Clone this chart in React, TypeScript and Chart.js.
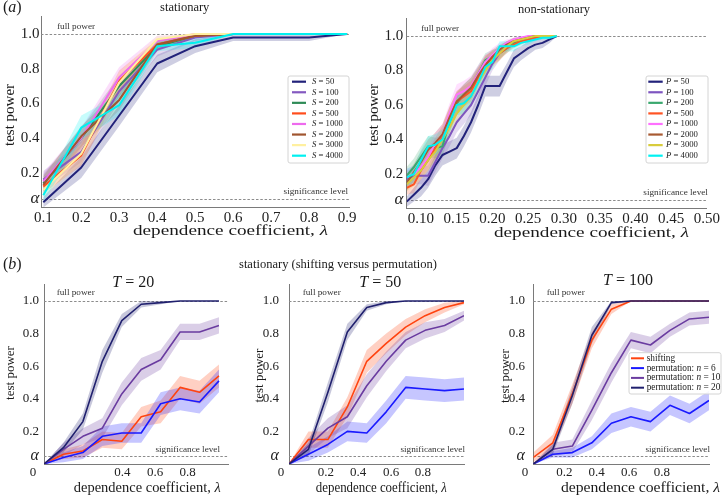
import React, { useEffect, useRef } from "react";
import { Chart, registerables } from "chart.js";

Chart.register(...registerables);

const W = 722;
const H = 497;
const SERIF = "'Liberation Serif', 'Times New Roman', Times, serif";
Chart.defaults.font.family = SERIF;
Chart.defaults.color = "#222";

// ---------------- reference levels ----------------
const fullPower = 1.0;
const alphaLevel = 0.05;
const yTickValues = [0.05, 0.2, 0.4, 0.6, 0.8, 1.0];
const yTickLabels = ["α", "0.2", "0.4", "0.6", "0.8", "1.0"];

// ---------------- (a) stationary ----------------
const statLambda = [0.1, 0.2, 0.3, 0.4, 0.5, 0.6, 0.7, 0.8, 0.9];
const statS50 = [0.03, 0.23, 0.53, 0.83, 0.93, 0.98, 0.98, 0.98, 1.0];
const statS100 = [0.16, 0.32, 0.67, 0.91, 0.98, 1.0, 1.0, 1.0, 1.0];
const statS200 = [0.14, 0.4, 0.7, 0.93, 0.99, 1.0, 1.0, 1.0, 1.0];
const statS500 = [0.12, 0.3, 0.73, 0.94, 0.99, 1.0, 1.0, 1.0, 1.0];
const statS1000 = [0.15, 0.4, 0.75, 0.96, 1.0, 1.0, 1.0, 1.0, 1.0];
const statS2000 = [0.13, 0.41, 0.62, 0.94, 0.99, 1.0, 1.0, 1.0, 1.0];
const statS3000 = [0.1, 0.31, 0.72, 0.97, 1.0, 1.0, 1.0, 1.0, 1.0];
const statS4000 = [0.07, 0.46, 0.59, 0.93, 0.95, 1.0, 1.0, 1.0, 1.0];
const statErr50 = [0.03, 0.06, 0.06, 0.05, 0.04, 0.02, 0.02, 0.02, 0.0];
const statErr100 = [0.05, 0.06, 0.06, 0.04, 0.02, 0.0, 0.0, 0.0, 0.0];
const statErr200 = [0.05, 0.06, 0.06, 0.03, 0.01, 0.0, 0.0, 0.0, 0.0];
const statErr500 = [0.04, 0.06, 0.06, 0.03, 0.01, 0.0, 0.0, 0.0, 0.0];
const statErr1000 = [0.05, 0.06, 0.06, 0.03, 0.0, 0.0, 0.0, 0.0, 0.0];
const statErr2000 = [0.05, 0.06, 0.06, 0.03, 0.01, 0.0, 0.0, 0.0, 0.0];
const statErr3000 = [0.04, 0.06, 0.06, 0.02, 0.0, 0.0, 0.0, 0.0, 0.0];
const statErr4000 = [0.04, 0.07, 0.06, 0.03, 0.03, 0.0, 0.0, 0.0, 0.0];
const statTickValues = [0.1, 0.2, 0.3, 0.4, 0.5, 0.6, 0.7, 0.8, 0.9];
const statTickLabels = ["0.1", "0.2", "0.3", "0.4", "0.5", "0.6", "0.7", "0.8", "0.9"];

// ---------------- (a) non-stationary ----------------
const nsLambda = [0.08, 0.09, 0.1, 0.11, 0.12, 0.13, 0.14, 0.15, 0.16, 0.17, 0.18, 0.19, 0.2, 0.21, 0.22, 0.23, 0.24, 0.25, 0.26, 0.27, 0.28, 0.29];
const nsP50 = [0.04, 0.08, 0.12, 0.17, 0.25, 0.31, 0.33, 0.35, 0.42, 0.5, 0.6, 0.71, 0.71, 0.71, 0.79, 0.87, 0.9, 0.93, 0.95, 0.96, 0.98, 1.0];
const nsP100 = [0.17, 0.19, 0.19, 0.19, 0.27, 0.35, 0.42, 0.5, 0.55, 0.6, 0.68, 0.76, 0.84, 0.9, 0.94, 0.97, 0.98, 0.98, 0.99, 1.0, 1.0, 1.0];
const nsP200 = [0.19, 0.24, 0.3, 0.36, 0.35, 0.36, 0.5, 0.61, 0.66, 0.7, 0.78, 0.86, 0.88, 0.9, 0.93, 0.96, 0.98, 0.99, 1.0, 1.0, 1.0, 1.0];
const nsP500 = [0.12, 0.14, 0.22, 0.28, 0.35, 0.42, 0.53, 0.62, 0.65, 0.68, 0.76, 0.84, 0.87, 0.9, 0.93, 0.95, 0.97, 0.98, 0.99, 1.0, 1.0, 1.0];
const nsP1000 = [0.18, 0.2, 0.24, 0.3, 0.38, 0.43, 0.55, 0.66, 0.68, 0.71, 0.78, 0.85, 0.89, 0.93, 0.96, 0.98, 0.99, 1.0, 1.0, 1.0, 1.0, 1.0];
const nsP2000 = [0.15, 0.21, 0.27, 0.34, 0.38, 0.43, 0.53, 0.62, 0.66, 0.7, 0.77, 0.83, 0.88, 0.92, 0.95, 0.97, 0.98, 0.99, 1.0, 1.0, 1.0, 1.0];
const nsP3000 = [0.14, 0.18, 0.22, 0.28, 0.33, 0.4, 0.47, 0.55, 0.6, 0.65, 0.73, 0.8, 0.86, 0.9, 0.94, 0.97, 0.98, 0.99, 1.0, 1.0, 1.0, 1.0];
const nsP4000 = [0.18, 0.2, 0.28, 0.36, 0.37, 0.4, 0.5, 0.6, 0.61, 0.65, 0.73, 0.82, 0.85, 0.94, 0.94, 0.94, 0.96, 0.97, 0.98, 0.99, 0.99, 1.0];
const nsErr50 = [0.03, 0.04, 0.05, 0.05, 0.06, 0.06, 0.06, 0.06, 0.06, 0.06, 0.06, 0.06, 0.06, 0.06, 0.05, 0.05, 0.04, 0.04, 0.03, 0.03, 0.02, 0.0];
const nsErr100 = [0.05, 0.05, 0.05, 0.06, 0.06, 0.06, 0.06, 0.06, 0.06, 0.06, 0.05, 0.05, 0.04, 0.04, 0.03, 0.02, 0.02, 0.01, 0.01, 0.0, 0.0, 0.0];
const nsErr200 = [0.05, 0.05, 0.06, 0.06, 0.06, 0.06, 0.06, 0.06, 0.06, 0.06, 0.05, 0.04, 0.04, 0.03, 0.03, 0.02, 0.01, 0.01, 0.0, 0.0, 0.0, 0.0];
const nsErr500 = [0.04, 0.05, 0.05, 0.06, 0.06, 0.06, 0.06, 0.06, 0.06, 0.06, 0.05, 0.05, 0.04, 0.04, 0.03, 0.02, 0.02, 0.01, 0.01, 0.0, 0.0, 0.0];
const nsErr1000 = [0.05, 0.05, 0.05, 0.06, 0.06, 0.06, 0.06, 0.06, 0.06, 0.06, 0.05, 0.04, 0.04, 0.03, 0.02, 0.01, 0.01, 0.0, 0.0, 0.0, 0.0, 0.0];
const nsErr2000 = [0.05, 0.05, 0.06, 0.06, 0.06, 0.06, 0.06, 0.06, 0.06, 0.06, 0.05, 0.05, 0.04, 0.03, 0.02, 0.02, 0.01, 0.01, 0.0, 0.0, 0.0, 0.0];
const nsErr3000 = [0.04, 0.05, 0.05, 0.06, 0.06, 0.06, 0.06, 0.06, 0.06, 0.06, 0.05, 0.05, 0.04, 0.04, 0.03, 0.02, 0.01, 0.01, 0.0, 0.0, 0.0, 0.0];
const nsErr4000 = [0.05, 0.05, 0.06, 0.06, 0.06, 0.06, 0.06, 0.06, 0.06, 0.06, 0.05, 0.05, 0.04, 0.03, 0.03, 0.03, 0.02, 0.02, 0.01, 0.01, 0.01, 0.0];
const nsTickValues = [0.1, 0.15, 0.2, 0.25, 0.3, 0.35, 0.4, 0.45, 0.5];
const nsTickLabels = ["0.10", "0.15", "0.20", "0.25", "0.30", "0.35", "0.40", "0.45", "0.50"];

// ---------------- (b) shifting versus permutation ----------------
const bLambda = [0, 0.1, 0.2, 0.3, 0.4, 0.5, 0.6, 0.7, 0.8, 0.9];
const t20Shift = [0, 0.06, 0.08, 0.15, 0.14, 0.29, 0.32, 0.47, 0.44, 0.54];
const t20Perm6 = [0, 0.04, 0.07, 0.17, 0.19, 0.19, 0.37, 0.4, 0.38, 0.51];
const t20Perm10 = [0, 0.09, 0.17, 0.22, 0.43, 0.58, 0.64, 0.81, 0.81, 0.85];
const t20Perm20 = [0, 0.1, 0.26, 0.63, 0.88, 0.98, 0.99, 1.0, 1.0, 1.0];
const t20ErrShift = [0, 0.03, 0.04, 0.05, 0.05, 0.06, 0.07, 0.07, 0.07, 0.07];
const t20ErrPerm6 = [0, 0.03, 0.04, 0.06, 0.06, 0.06, 0.07, 0.07, 0.07, 0.07];
const t20ErrPerm10 = [0, 0.04, 0.05, 0.06, 0.07, 0.07, 0.06, 0.05, 0.05, 0.05];
const t20ErrPerm20 = [0, 0.03, 0.05, 0.07, 0.04, 0.02, 0.01, 0.0, 0.0, 0.0];

const t50Shift = [0, 0.15, 0.15, 0.35, 0.63, 0.74, 0.84, 0.91, 0.96, 0.99];
const t50Perm6 = [0, 0.06, 0.12, 0.2, 0.19, 0.32, 0.47, 0.46, 0.45, 0.46];
const t50Perm10 = [0, 0.11, 0.22, 0.29, 0.48, 0.63, 0.76, 0.82, 0.85, 0.91];
const t50Perm20 = [0, 0.09, 0.44, 0.81, 0.96, 0.99, 1.0, 1.0, 1.0, 1.0];
const t50ErrShift = [0, 0.05, 0.05, 0.06, 0.07, 0.06, 0.05, 0.04, 0.03, 0.01];
const t50ErrPerm6 = [0, 0.04, 0.05, 0.06, 0.06, 0.07, 0.07, 0.07, 0.07, 0.07];
const t50ErrPerm10 = [0, 0.05, 0.06, 0.07, 0.07, 0.06, 0.05, 0.05, 0.04, 0.03];
const t50ErrPerm20 = [0, 0.04, 0.06, 0.05, 0.02, 0.01, 0.0, 0.0, 0.0, 0.0];

const t100Shift = [0.04, 0.13, 0.43, 0.76, 0.95, 1.0, 1.0, 1.0, 1.0, 1.0];
const t100Perm6 = [0, 0.06, 0.07, 0.13, 0.25, 0.29, 0.26, 0.36, 0.31, 0.39];
const t100Perm10 = [0, 0.09, 0.11, 0.33, 0.56, 0.76, 0.73, 0.82, 0.89, 0.9];
const t100Perm20 = [0, 0.09, 0.42, 0.79, 0.99, 1.0, 1.0, 1.0, 1.0, 1.0];
const t100ErrShift = [0.03, 0.05, 0.06, 0.05, 0.03, 0.0, 0.0, 0.0, 0.0, 0.0];
const t100ErrPerm6 = [0, 0.02, 0.03, 0.04, 0.06, 0.06, 0.06, 0.06, 0.06, 0.06];
const t100ErrPerm10 = [0, 0.04, 0.04, 0.06, 0.06, 0.05, 0.05, 0.04, 0.04, 0.04];
const t100ErrPerm20 = [0, 0.03, 0.05, 0.05, 0.01, 0.0, 0.0, 0.0, 0.0, 0.0];

const t20TickLabels = ["0", "0.4", "0.6", "0.8"];
const t20TickAt = [-0.057, 0.403, 0.571, 0.739];
const t50TickLabels = ["0", "0.2", "0.4", "0.6", "0.8"];
const t50TickAt = [-0.041, 0.189, 0.355, 0.525, 0.689];
const t100TickLabels = ["0", "0.2", "0.4", "0.6", "0.8"];
const t100TickAt = [-0.043, 0.159, 0.325, 0.491, 0.658];

// ---------------- styles ----------------
type Seg = { t: string; i?: boolean };
const seg = (t: string, i = false): Seg => ({ t, i });

type Txt = {
  s: Seg[];
  x: number;
  y: number;
  size: number;
  align?: "left" | "center" | "right";
  rot?: number;
  w?: number;
  base?: CanvasTextBaseline;
  color?: string;
};

type Series = { name: Seg[]; y: number[]; err: number[]; color: string; lw: number };

type Legend = { x: number; y: number; w: number; h: number; row0: number; rowH: number; h0: number; h1: number; tx: number; size: number; lw: number };

type PanelCfg = {
  area: { l: number; t: number; r: number; b: number };
  xRange: [number, number];
  yRange: [number, number];
  xs: number[];
  series: Series[];
  band: number;
  xTickAt: number[];
  xTickLabels: string[];
  tickSize: number;
  alphaSize: number;
  xPad: number;
  yPad: number;
  refDx: number;
  refSize: number;
  fullOff: number;
  sigOff: number;
  sigAtX: number;
  texts: Txt[];
  legend?: Legend;
};

const NAVY = "#22227a";
const C_S = {
  s50: NAVY,
  s100: "#8459c0",
  s200: "#2e8b57",
  s500: "#ff4d1c",
  s1000: "#ee6aee",
  s2000: "#a0552f",
  s3000: "#fff0a0",
  s4000: "#00f0f0",
};
const C_P = {
  p50: NAVY,
  p100: "#7e55c0",
  p200: "#3aa86e",
  p500: "#ff5424",
  p1000: "#ff70ff",
  p2000: "#a85a32",
  p3000: "#d8cc3c",
  p4000: "#00f2f2",
};
const C_B = { shift: "#ff4410", perm6: "#1a1aff", perm10: "#6a3ca0", perm20: "#20206e" };

function rgba(hex: string, a: number) {
  const h = hex.replace("#", "");
  const r = parseInt(h.slice(0, 2), 16);
  const g = parseInt(h.slice(2, 4), 16);
  const b = parseInt(h.slice(4, 6), 16);
  return `rgba(${r},${g},${b},${a})`;
}

function fontStr(size: number, italic?: boolean) {
  return `${italic ? "italic " : ""}${size}px ${SERIF}`;
}

function drawText(ctx: CanvasRenderingContext2D, t: Txt) {
  ctx.save();
  ctx.fillStyle = t.color || "#1a1a1a";
  ctx.textBaseline = t.base || "middle";
  ctx.textAlign = "left";
  const widths = t.s.map((s) => {
    ctx.font = fontStr(t.size, s.i);
    return ctx.measureText(s.t).width;
  });
  const total = widths.reduce((a, b) => a + b, 0);
  const sx = t.w ? t.w / total : 1;
  ctx.translate(t.x, t.y);
  if (t.rot) ctx.rotate(t.rot);
  ctx.scale(sx, 1);
  const align = t.align || "left";
  let cx = align === "left" ? 0 : align === "center" ? -total / 2 : -total;
  t.s.forEach((s, i) => {
    ctx.font = fontStr(t.size, s.i);
    ctx.fillText(s.t, cx, 0);
    cx += widths[i];
  });
  ctx.restore();
}

function drawLegend(ctx: CanvasRenderingContext2D, lg: Legend, series: Series[]) {
  ctx.save();
  const r = 2;
  ctx.beginPath();
  ctx.moveTo(lg.x + r, lg.y);
  ctx.lineTo(lg.x + lg.w - r, lg.y);
  ctx.quadraticCurveTo(lg.x + lg.w, lg.y, lg.x + lg.w, lg.y + r);
  ctx.lineTo(lg.x + lg.w, lg.y + lg.h - r);
  ctx.quadraticCurveTo(lg.x + lg.w, lg.y + lg.h, lg.x + lg.w - r, lg.y + lg.h);
  ctx.lineTo(lg.x + r, lg.y + lg.h);
  ctx.quadraticCurveTo(lg.x, lg.y + lg.h, lg.x, lg.y + lg.h - r);
  ctx.lineTo(lg.x, lg.y + r);
  ctx.quadraticCurveTo(lg.x, lg.y, lg.x + r, lg.y);
  ctx.closePath();
  ctx.fillStyle = "rgba(255,255,255,0.85)";
  ctx.fill();
  ctx.strokeStyle = "#d4d4d4";
  ctx.lineWidth = 1;
  ctx.stroke();
  series.forEach((s, i) => {
    const cy = lg.row0 + i * lg.rowH;
    ctx.strokeStyle = s.color;
    ctx.lineWidth = lg.lw;
    ctx.beginPath();
    ctx.moveTo(lg.h0, cy);
    ctx.lineTo(lg.h1, cy);
    ctx.stroke();
    drawText(ctx, { s: s.name, x: lg.tx, y: cy, size: lg.size, align: "left", color: "#222" });
  });
  ctx.restore();
}

function panelPlugin(cfg: PanelCfg) {
  return {
    id: "panelDeco",
    beforeDatasetsDraw(chart: any) {
      const { ctx, chartArea: a } = chart;
      const ys = chart.scales.y;
      ctx.save();
      ctx.strokeStyle = "#8c8c8c";
      ctx.lineWidth = 1;
      ctx.setLineDash([2.5, 1.8]);
      [fullPower, alphaLevel].forEach((v) => {
        const py = Math.round(ys.getPixelForValue(v)) + 0.5;
        ctx.beginPath();
        ctx.moveTo(a.left, py);
        ctx.lineTo(a.right, py);
        ctx.stroke();
      });
      ctx.restore();
    },
    afterDraw(chart: any) {
      const { ctx, chartArea: a } = chart;
      const xs = chart.scales.x;
      const ys = chart.scales.y;
      drawText(ctx, {
        s: [seg("full power")],
        x: a.left + cfg.refDx,
        y: ys.getPixelForValue(fullPower) - cfg.fullOff,
        size: cfg.refSize,
        align: "left",
        base: "alphabetic",
        color: "#333",
      });
      drawText(ctx, {
        s: [seg("significance level")],
        x: xs.getPixelForValue(cfg.sigAtX) + 1,
        y: ys.getPixelForValue(alphaLevel) - cfg.sigOff,
        size: cfg.refSize,
        align: "right",
        base: "alphabetic",
        color: "#333",
      });
      cfg.texts.forEach((t) => drawText(ctx, t));
      if (cfg.legend) drawLegend(ctx, cfg.legend, cfg.series);
    },
  };
}

function buildDatasets(cfg: PanelCfg) {
  const ds: any[] = [];
  const n = cfg.series.length;
  cfg.series.forEach((s, i) => {
    const upper = cfg.xs.map((x, k) => ({ x, y: Math.min(1, s.y[k] + s.err[k]) }));
    const lower = cfg.xs.map((x, k) => ({ x, y: Math.max(0, s.y[k] - s.err[k]) }));
    ds.push({ data: upper, borderWidth: 0, pointRadius: 0, fill: false, order: 1000 - i, borderColor: "rgba(0,0,0,0)" });
    ds.push({
      data: lower,
      borderWidth: 0,
      pointRadius: 0,
      fill: "-1",
      backgroundColor: rgba(s.color, cfg.band),
      borderColor: "rgba(0,0,0,0)",
      order: 1000 - i,
    });
  });
  cfg.series.forEach((s, i) => {
    ds.push({
      data: cfg.xs.map((x, k) => ({ x, y: s.y[k] })),
      borderColor: s.color,
      borderWidth: s.lw,
      pointRadius: 0,
      fill: false,
      tension: 0,
      borderJoinStyle: "round",
      order: n - i,
    });
  });
  return ds;
}

function makeConfig(cfg: PanelCfg): any {
  const a = cfg.area;
  return {
    type: "line",
    data: { datasets: buildDatasets(cfg) },
    options: {
      responsive: false,
      animation: false,
      events: [],
      layout: { autoPadding: false, padding: { left: 0, top: a.t, right: W - a.r, bottom: 0 } },
      plugins: { legend: { display: false }, tooltip: { enabled: false }, title: { display: false } },
      scales: {
        x: {
          type: "linear",
          position: "bottom",
          min: cfg.xRange[0],
          max: cfg.xRange[1],
          afterFit: (s: any) => {
            s.height = H - a.b;
          },
          afterBuildTicks: (s: any) => {
            s.ticks = cfg.xTickAt.map((v) => ({ value: v }));
          },
          ticks: {
            autoSkip: false,
            maxRotation: 0,
            minRotation: 0,
            padding: cfg.xPad,
            color: "#222",
            font: { family: SERIF, size: cfg.tickSize },
            callback: (_v: any, i: number) => cfg.xTickLabels[i],
          },
          grid: { display: false, drawTicks: false },
          border: { display: true, color: "#7a7a7a", width: 1 },
        },
        y: {
          type: "linear",
          position: "left",
          min: cfg.yRange[0],
          max: cfg.yRange[1],
          afterFit: (s: any) => {
            s.width = a.l;
          },
          afterBuildTicks: (s: any) => {
            s.ticks = yTickValues.map((v) => ({ value: v }));
          },
          ticks: {
            autoSkip: false,
            padding: cfg.yPad,
            color: "#222",
            font: (c: any) =>
              c.tick && Math.abs(c.tick.value - alphaLevel) < 1e-9
                ? { family: SERIF, size: cfg.alphaSize, style: "italic" }
                : { family: SERIF, size: cfg.tickSize },
            callback: (_v: any, i: number) => yTickLabels[i],
          },
          grid: { display: false, drawTicks: false },
          border: { display: true, color: "#7a7a7a", width: 1 },
        },
      },
    },
    plugins: [panelPlugin(cfg)],
  };
}

const lam = (pre: string): Seg[] => [seg(pre), seg("λ", true)];

const PANELS: PanelCfg[] = [
  {
    area: { l: 41, t: 16.7, r: 349, b: 207.4 },
    xRange: [0.094, 0.905],
    yRange: [0, 1.1],
    xs: statLambda,
    band: 0.22,
    series: [
      { name: [seg("S", true), seg(" = 50")], y: statS50, err: statErr50, color: C_S.s50, lw: 2 },
      { name: [seg("S", true), seg(" = 100")], y: statS100, err: statErr100, color: C_S.s100, lw: 2 },
      { name: [seg("S", true), seg(" = 200")], y: statS200, err: statErr200, color: C_S.s200, lw: 2 },
      { name: [seg("S", true), seg(" = 500")], y: statS500, err: statErr500, color: C_S.s500, lw: 2 },
      { name: [seg("S", true), seg(" = 1000")], y: statS1000, err: statErr1000, color: C_S.s1000, lw: 2 },
      { name: [seg("S", true), seg(" = 2000")], y: statS2000, err: statErr2000, color: C_S.s2000, lw: 2 },
      { name: [seg("S", true), seg(" = 3000")], y: statS3000, err: statErr3000, color: C_S.s3000, lw: 2 },
      { name: [seg("S", true), seg(" = 4000")], y: statS4000, err: statErr4000, color: C_S.s4000, lw: 2 },
    ],
    xTickAt: statTickValues,
    xTickLabels: statTickLabels,
    tickSize: 15,
    alphaSize: 17,
    xPad: 2,
    yPad: 1.5,
    refDx: 16,
    refSize: 9.2,
    fullOff: 5,
    sigOff: 5,
    sigAtX: 0.9,
    texts: [
      { s: [seg("("), seg("a", true), seg(")")], x: 3, y: 8, size: 16, align: "left" },
      { s: [seg("stationary")], x: 184.7, y: 7.5, size: 12.5, align: "center" },
      { s: [seg("test power")], x: 10, y: 115, size: 15, align: "center", rot: -Math.PI / 2 },
      { s: lam("dependence coefficient, "), x: 230.5, y: 231.5, size: 15, align: "center", w: 195 },
    ],
    legend: { x: 288, y: 76, w: 61, h: 87, row0: 81.7, rowH: 10.57, h0: 292, h1: 306, tx: 312, size: 8.7, lw: 2.2 },
  },
  {
    area: { l: 406.7, t: 18.75, r: 710.3, b: 208.5 },
    xRange: [0.08, 0.5],
    yRange: [0, 1.1],
    xs: nsLambda,
    band: 0.22,
    series: [
      { name: [seg("P", true), seg(" = 50")], y: nsP50, err: nsErr50, color: C_P.p50, lw: 2 },
      { name: [seg("P", true), seg(" = 100")], y: nsP100, err: nsErr100, color: C_P.p100, lw: 2 },
      { name: [seg("P", true), seg(" = 200")], y: nsP200, err: nsErr200, color: C_P.p200, lw: 2 },
      { name: [seg("P", true), seg(" = 500")], y: nsP500, err: nsErr500, color: C_P.p500, lw: 2 },
      { name: [seg("P", true), seg(" = 1000")], y: nsP1000, err: nsErr1000, color: C_P.p1000, lw: 2 },
      { name: [seg("P", true), seg(" = 2000")], y: nsP2000, err: nsErr2000, color: C_P.p2000, lw: 2 },
      { name: [seg("P", true), seg(" = 3000")], y: nsP3000, err: nsErr3000, color: C_P.p3000, lw: 2 },
      { name: [seg("P", true), seg(" = 4000")], y: nsP4000, err: nsErr4000, color: C_P.p4000, lw: 2 },
    ],
    xTickAt: nsTickValues,
    xTickLabels: nsTickLabels,
    tickSize: 15,
    alphaSize: 17,
    xPad: 2,
    yPad: 3.4,
    refDx: 14.3,
    refSize: 9.2,
    fullOff: 5,
    sigOff: 5,
    sigAtX: 0.5,
    texts: [
      { s: [seg("non-stationary")], x: 554, y: 10, size: 12.5, align: "center" },
      { s: [seg("test power")], x: 374.3, y: 115, size: 15, align: "center", rot: -Math.PI / 2 },
      { s: lam("dependence coefficient, "), x: 591.5, y: 233, size: 15, align: "center", w: 195 },
    ],
    legend: { x: 646, y: 76, w: 62, h: 87, row0: 81.7, rowH: 10.57, h0: 648.3, h1: 662.7, tx: 666, size: 8.7, lw: 2.2 },
  },
  {
    area: { l: 44, t: 284.7, r: 228.7, b: 464 },
    xRange: [0, 0.95],
    yRange: [0, 1.1],
    xs: bLambda,
    band: 0.25,
    series: [
      { name: [seg("shifting")], y: t20Shift, err: t20ErrShift, color: C_B.shift, lw: 1.6 },
      { name: [seg("permutation: "), seg("n", true), seg(" = 6")], y: t20Perm6, err: t20ErrPerm6, color: C_B.perm6, lw: 1.6 },
      { name: [seg("permutation: "), seg("n", true), seg(" = 10")], y: t20Perm10, err: t20ErrPerm10, color: C_B.perm10, lw: 1.6 },
      { name: [seg("permutation: "), seg("n", true), seg(" = 20")], y: t20Perm20, err: t20ErrPerm20, color: C_B.perm20, lw: 1.6 },
    ],
    xTickAt: t20TickAt,
    xTickLabels: t20TickLabels,
    tickSize: 13,
    alphaSize: 16,
    xPad: 0.5,
    yPad: 5,
    refDx: 12.7,
    refSize: 9.2,
    fullOff: 6,
    sigOff: 3.5,
    sigAtX: 0.9,
    texts: [
      { s: [seg("("), seg("b", true), seg(")")], x: 3, y: 265, size: 16, align: "left" },
      { s: [seg("stationary (shifting versus permutation)")], x: 338, y: 265, size: 12.5, align: "center", w: 198 },
      { s: [seg("T", true), seg(" = 20")], x: 133.3, y: 283, size: 16, align: "center" },
      { s: [seg("test power")], x: 10.8, y: 373, size: 13, align: "center", rot: -Math.PI / 2 },
      { s: lam("dependence coefficient, "), x: 147.3, y: 488.3, size: 14, align: "center", w: 147 },
    ],
  },
  {
    area: { l: 289, t: 284.7, r: 464, b: 464 },
    xRange: [0, 0.9],
    yRange: [0, 1.1],
    xs: bLambda,
    band: 0.25,
    series: [
      { name: [seg("shifting")], y: t50Shift, err: t50ErrShift, color: C_B.shift, lw: 1.6 },
      { name: [seg("permutation: "), seg("n", true), seg(" = 6")], y: t50Perm6, err: t50ErrPerm6, color: C_B.perm6, lw: 1.6 },
      { name: [seg("permutation: "), seg("n", true), seg(" = 10")], y: t50Perm10, err: t50ErrPerm10, color: C_B.perm10, lw: 1.6 },
      { name: [seg("permutation: "), seg("n", true), seg(" = 20")], y: t50Perm20, err: t50ErrPerm20, color: C_B.perm20, lw: 1.6 },
    ],
    xTickAt: t50TickAt,
    xTickLabels: t50TickLabels,
    tickSize: 13,
    alphaSize: 16,
    xPad: 0.5,
    yPad: 10,
    refDx: 13.7,
    refSize: 9.2,
    fullOff: 6,
    sigOff: 3.5,
    sigAtX: 0.9,
    texts: [
      { s: [seg("T", true), seg(" = 50")], x: 380.3, y: 283, size: 16, align: "center" },
      { s: [seg("test power")], x: 259.5, y: 375.5, size: 13, align: "center", rot: -Math.PI / 2 },
      { s: lam("dependence coefficient, "), x: 381.3, y: 488, size: 14, align: "center", w: 131 },
    ],
  },
  {
    area: { l: 533.3, t: 284.7, r: 709, b: 464 },
    xRange: [0, 0.9],
    yRange: [0, 1.1],
    xs: bLambda,
    band: 0.25,
    series: [
      { name: [seg("shifting")], y: t100Shift, err: t100ErrShift, color: C_B.shift, lw: 1.6 },
      { name: [seg("permutation: "), seg("n", true), seg(" = 6")], y: t100Perm6, err: t100ErrPerm6, color: C_B.perm6, lw: 1.6 },
      { name: [seg("permutation: "), seg("n", true), seg(" = 10")], y: t100Perm10, err: t100ErrPerm10, color: C_B.perm10, lw: 1.6 },
      { name: [seg("permutation: "), seg("n", true), seg(" = 20")], y: t100Perm20, err: t100ErrPerm20, color: C_B.perm20, lw: 1.6 },
    ],
    xTickAt: t100TickAt,
    xTickLabels: t100TickLabels,
    tickSize: 13,
    alphaSize: 16,
    xPad: 0.5,
    yPad: 8.3,
    refDx: 13.4,
    refSize: 9.2,
    fullOff: 6,
    sigOff: 3.5,
    sigAtX: 0.9,
    texts: [
      { s: [seg("T", true), seg(" = 100")], x: 628, y: 281, size: 16, align: "center" },
      { s: [seg("test power")], x: 505.5, y: 376, size: 13, align: "center", rot: -Math.PI / 2 },
      { s: lam("dependence coefficient, "), x: 640.5, y: 488, size: 14, align: "center", w: 159 },
    ],
    legend: { x: 629, y: 352.7, w: 92, h: 41.3, row0: 358.3, rowH: 9.8, h0: 631, h1: 644, tx: 646.7, size: 9.3, lw: 2 },
  },
];

function Panel({ cfg }: { cfg: PanelCfg }) {
  const ref = useRef<HTMLCanvasElement | null>(null);
  useEffect(() => {
    if (!ref.current) return;
    const chart = new Chart(ref.current, makeConfig(cfg));
    return () => chart.destroy();
  }, [cfg]);
  return (
    <canvas
      ref={ref}
      width={W}
      height={H}
      style={{ position: "absolute", left: 0, top: 0, width: W, height: H }}
    />
  );
}

export default function App() {
  return (
    <div
      style={{
        position: "absolute",
        left: 0,
        top: 0,
        width: W,
        height: H,
        background: "#ffffff",
        overflow: "hidden",
      }}
    >
      {PANELS.map((p, i) => (
        <Panel key={i} cfg={p} />
      ))}
    </div>
  );
}
